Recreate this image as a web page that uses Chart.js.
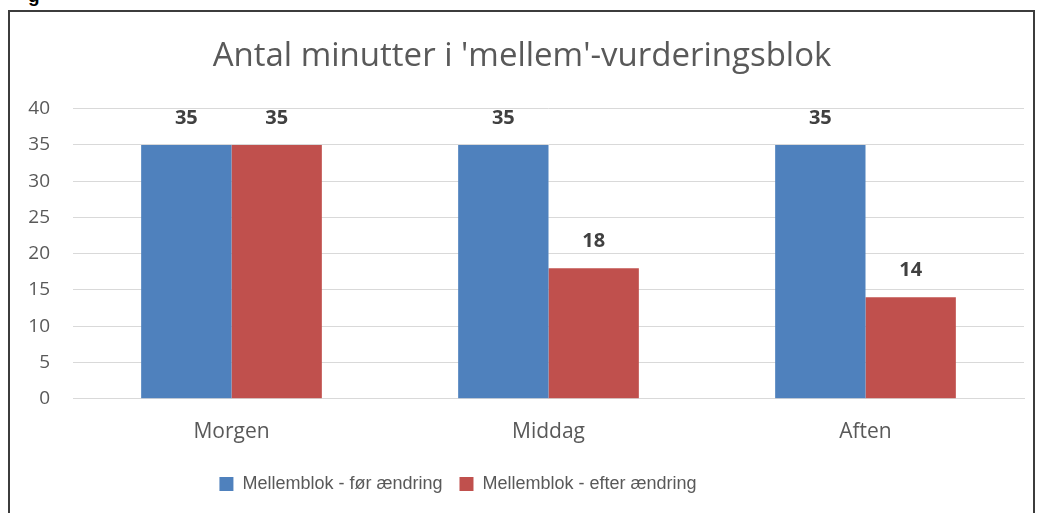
<!DOCTYPE html>
<html>
<head>
<meta charset="utf-8">
<script src="https://cdn.jsdelivr.net/npm/chart.js@4"></script>
<style>
  html, body { margin: 0; padding: 0; background: #fff; overflow: hidden; }
  #frame {
    position: absolute; left: 8px; top: 10px; width: 1023px; height: 520px;
    border: 2px solid #3c3c3c; border-bottom: none;
  }
  #cut {
    position: absolute; left: 28px; top: -15px;
    font: bold 19px "Liberation Sans", Arial, sans-serif; color: #000;
  }
  #wrap { position: absolute; left: 0; top: 0; width: 1042px; height: 513px; }
</style>
</head>
<body>
<div id="cut">g</div>
<div id="frame"></div>
<div id="wrap"><canvas id="myChart" width="1042" height="513"></canvas></div>
<script>
const categories = ['Morgen', 'Middag', 'Aften'];
const beforeValues = [35, 35, 35];
const afterValues = [35, 18, 14];
const seriesNames = ['Mellemblok - før ændring', 'Mellemblok - efter ændring'];
const chartTitle = "Antal minutter i 'mellem'-vurderingsblok";

const textGrey = '#595959';
const fontFamily = '"Open Sans", "Liberation Sans", sans-serif';
const legendFamily = '"Liberation Sans", Arial, sans-serif';

// draws the bold value above every bar
const valueLabels = {
    id: 'valueLabels',
    afterDatasetsDraw(chart) {
        const ctx = chart.ctx;
        ctx.save();
        ctx.font = 'bold 20px ' + fontFamily;
        ctx.fillStyle = '#404040';
        ctx.textAlign = 'center';
        ctx.textBaseline = 'middle';
        chart.data.datasets.forEach((ds, i) => {
            chart.getDatasetMeta(i).data.forEach((bar, j) => {
                ctx.fillText(ds.data[j], bar.x, bar.y - 27);
            });
        });
        ctx.restore();
    }
};

// the legend in the original sits left of centre
const legendShift = {
    id: 'legendShift',
    afterLayout(chart) {
        chart.legend.left -= 64;
        chart.legend.right -= 64;
    }
};

const ctx = document.getElementById('myChart').getContext('2d');
const myChart = new Chart(ctx, {
    type: 'bar',
    data: {
        labels: categories,
        datasets: [{
            label: seriesNames[0],
            data: beforeValues,
            backgroundColor: '#4F81BD',
            categoryPercentage: 0.57,
            barPercentage: 1.0
        }, {
            label: seriesNames[1],
            data: afterValues,
            backgroundColor: '#C0504D',
            categoryPercentage: 0.57,
            barPercentage: 1.0
        }]
    },
    options: {
        responsive: false,
        animation: false,
        layout: { padding: { left: 20, right: 18, top: 0, bottom: 10 } },
        plugins: {
            title: {
                display: true,
                text: chartTitle,
                color: textGrey,
                font: { family: fontFamily, size: 33, weight: '400' },
                padding: { top: 37, bottom: 32 }
            },
            legend: {
                position: 'bottom',
                labels: {
                    color: textGrey,
                    font: { family: legendFamily, size: 18 },
                    boxWidth: 14,
                    boxHeight: 14,
                    padding: 17
                }
            },
            tooltip: { enabled: false }
        },
        scales: {
            x: {
                grid: { display: false },
                border: { color: '#d9d9d9' },
                ticks: { color: textGrey, font: { family: fontFamily, size: 21 }, padding: 13 }
            },
            y: {
                min: 0,
                max: 40,
                ticks: { stepSize: 5, color: textGrey, font: { family: fontFamily, size: 19 }, padding: 23 },
                grid: { color: '#d9d9d9', drawTicks: false },
                border: { display: false },
                afterFit(scale) { scale.width = 53; }
            }
        }
    },
    plugins: [valueLabels, legendShift]
});
</script>
</body>
</html>
